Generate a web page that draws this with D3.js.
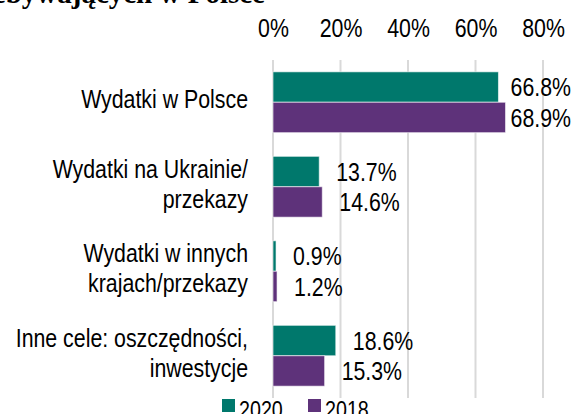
<!DOCTYPE html>
<html lang="pl">
<head>
    <meta charset="UTF-8"/>
    <title>Wydatki migrantów</title>
    <script src="https://d3js.org/d3.v7.min.js"></script>
    <style>
        body { margin: 0; background: #fff; }
        svg text { font-family: "Liberation Sans", Arial, sans-serif; fill: #000; }
    </style>
</head>
<body>
    <script>
        // Data
        var categories = [
            ["Wydatki w Polsce"],
            ["Wydatki na Ukrainie/", "przekazy"],
            ["Wydatki w innych", "krajach/przekazy"],
            ["Inne cele: oszczędności,", "inwestycje"]
        ];
        var seriesNames = ["2020", "2018"];
        var values2020 = [66.8, 13.7, 0.9, 18.6];
        var values2018 = [68.9, 14.6, 1.2, 15.3];
        var tickValues = [0, 20, 40, 60, 80];
        var colors = ["#00786c", "#5e327a"];

        var w = 574;
        var h = 414;

        // no narrow font installed, so squeeze the regular one like Arial Narrow
        function narrow(node) {
            var len = node.getComputedTextLength();
            d3.select(node)
                .attr("textLength", len * 0.82)
                .attr("lengthAdjust", "spacingAndGlyphs");
            return len * 0.82;
        }

        var svg = d3.select("body")
                    .append("svg")
                    .attr("width", w)
                    .attr("height", h);

        // title, mostly cut off at the top edge
        svg.append("text")
            .attr("x", 265)
            .attr("y", 3)
            .attr("text-anchor", "end")
            .style("font-family", "'Liberation Serif', serif")
            .style("font-weight", "bold")
            .style("font-size", "29px")
            .text("przebywających w Polsce");

        var xScale = d3.scaleLinear()
                        .domain([0, 80])
                        .range([273, 543]);

        var yScale = d3.scaleBand()
                        .domain(d3.range(categories.length))
                        .range([60, 398])
                        .paddingInner(0.28)
                        .paddingOuter(0.14);

        var ySub = d3.scaleBand()
                        .domain([0, 1])
                        .range([0, yScale.bandwidth()]);

        // gridlines
        svg.selectAll("line.grid")
            .data(tickValues)
            .enter()
            .append("line")
            .attr("class", "grid")
            .attr("x1", function(d) { return xScale(d); })
            .attr("x2", function(d) { return xScale(d); })
            .attr("y1", 60)
            .attr("y2", 398)
            .attr("stroke", "#d9d9d9")
            .attr("stroke-width", 2);

        // top axis labels
        var xAxis = d3.axisTop(xScale)
                        .tickValues(tickValues)
                        .tickFormat(function(d) { return d + "%"; })
                        .tickSize(0)
                        .tickPadding(0);

        var axisG = svg.append("g")
            .attr("transform", "translate(0, 37)")
            .call(xAxis);
        axisG.select(".domain").remove();
        axisG.selectAll("text")
            .attr("dy", 0)
            .style("font-size", "26px")
            .each(function() { narrow(this); });

        // bars
        var rows = [];
        categories.forEach(function(c, i) {
            rows.push({ cat: i, s: 0, v: values2020[i] });
            rows.push({ cat: i, s: 1, v: values2018[i] });
        });

        svg.selectAll("rect.bar")
            .data(rows)
            .enter()
            .append("rect")
            .attr("class", "bar")
            .attr("x", xScale(0))
            .attr("y", function(d) { return yScale(d.cat) + ySub(d.s); })
            .attr("width", function(d) { return xScale(d.v) - xScale(0); })
            .attr("height", ySub.bandwidth())
            .attr("fill", function(d) { return colors[d.s]; })
            .attr("stroke", "#ffffff")
            .attr("stroke-opacity", 0.6)
            .attr("stroke-width", 1);

        // value labels, squeezed with a transform, pushed back inside the right edge
        var valG = svg.selectAll("g.val")
            .data(rows)
            .enter()
            .append("g")
            .attr("class", "val");

        valG.append("text")
            .attr("dy", "0.35em")
            .style("font-size", "26px")
            .text(function(d) { return d.v.toFixed(1) + "%"; })
            .each(function(d) {
                var tw = this.getComputedTextLength() * 0.82;
                var x = xScale(d.v) + 17;
                if (x + tw > 571) x = 571 - tw;
                var y = yScale(d.cat) + ySub(d.s) + ySub.bandwidth() / 2;
                d3.select(this.parentNode)
                    .attr("transform", "translate(" + x + "," + y + ") scale(0.82,1)");
            });

        // category labels
        categories.forEach(function(lines, i) {
            var cy = yScale(i) + yScale.bandwidth() / 2;
            var t = svg.append("text")
                .attr("text-anchor", "end")
                .style("font-size", "26px");
            lines.forEach(function(line, j) {
                t.append("tspan")
                    .attr("x", 248)
                    .attr("y", cy + 6 + (j - (lines.length - 1) / 2) * 30)
                    .text(line)
                    .each(function() { narrow(this); });
            });
        });

        // legend
        var legendX = [222, 308];
        seriesNames.forEach(function(name, i) {
            svg.append("rect")
                .attr("x", legendX[i])
                .attr("y", 399)
                .attr("width", 13)
                .attr("height", 13)
                .attr("fill", colors[i]);
            svg.append("text")
                .attr("x", legendX[i] + 17)
                .attr("y", 418)
                .style("font-size", "24px")
                .text(name)
                .each(function() { narrow(this); });
        });
    </script>
</body>
</html>
